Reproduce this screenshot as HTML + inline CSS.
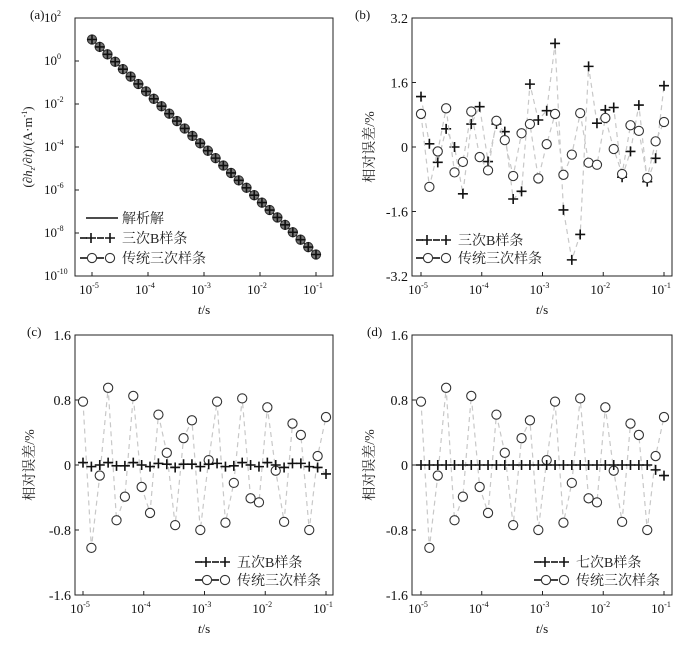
<!DOCTYPE html>
<html><head><meta charset="utf-8"><style>
html,body{margin:0;padding:0;background:#fff;}
svg{display:block;font-family:"Liberation Serif","Noto Serif CJK SC","Noto Sans CJK SC",serif;}
</style></head><body>
<svg id="chart" width="700" height="646" viewBox="0 0 700 646" xmlns="http://www.w3.org/2000/svg"></svg>
<script>
const NPTS = 30;
const tStart = -5, tEnd = -1;
const hStartExp = 1, hSlope = -2.5;
const cubicB = [1.25,0.08,-0.38,0.45,0,-1.16,0.57,1.0,-0.36,0.57,0.38,-1.29,-1.1,1.56,0.67,0.9,2.57,-1.56,-2.8,-2.17,2.0,0.59,0.92,0.98,-0.75,-0.11,1.04,-0.86,-0.28,1.52];
const tradCubicB = [0.82,-0.99,-0.11,0.96,-0.63,-0.37,0.88,-0.25,-0.58,0.65,0.17,-0.72,0.34,0.57,-0.78,0.07,0.82,-0.69,-0.19,0.84,-0.39,-0.44,0.72,-0.05,-0.67,0.54,0.40,-0.77,0.14,0.62];
const tradCubic = [0.78,-1.02,-0.13,0.95,-0.68,-0.39,0.85,-0.27,-0.59,0.62,0.15,-0.74,0.33,0.55,-0.80,0.06,0.78,-0.71,-0.22,0.82,-0.41,-0.46,0.71,-0.07,-0.70,0.51,0.37,-0.80,0.11,0.59];
const quinticB = [0.03,-0.02,0,0.03,-0.01,-0.01,0.03,0,-0.02,0.02,0.01,-0.03,0.01,0.01,-0.02,0.01,0.02,-0.02,-0.01,0.03,0,-0.02,0.03,0,-0.03,0.02,0.02,-0.02,-0.03,-0.11];
const septicB = [0,0,0,0,0,0,0,0,0,0,0,0,0,0,0,0,0,0,0,0,0,0,0,0,0,0,0,0,-0.06,-0.13];
const xTickExps = [-5,-4,-3,-2,-1];
const yTickExpsA = [2,0,-2,-4,-6,-8,-10];
const yTicksB = [3.2,1.6,0,-1.6,-3.2];
const yTicksC = [1.6,0.8,0,-0.8,-1.6];

const NS="http://www.w3.org/2000/svg";
const svg=document.getElementById('chart');
function mk(tag,attrs,parent){const e=document.createElementNS(NS,tag);for(const k in attrs)e.setAttribute(k,attrs[k]);(parent||svg).appendChild(e);return e;}
const tExp=[];for(let i=0;i<NPTS;i++)tExp.push(tStart+(tEnd-tStart)*i/(NPTS-1));

function supText(g,x,y,base,sup,anchor){
  const t=mk('text',{x:x,y:y,'font-size':13,'text-anchor':anchor||'middle',fill:'#111'},g);
  t.textContent=base;
  const s=mk('tspan',{'font-size':8,dy:-6},t);s.textContent=sup;
  return t;
}
function plus(g,x,y){const p=mk('path',{d:`M${x-5},${y}H${x+5}M${x},${y-5}V${y+5}`,stroke:'#111','stroke-width':1.6,fill:'none'},g);}
function circ(g,x,y,fill){const c=mk('circle',{cx:x,cy:y,r:4.6,stroke:'#333','stroke-width':1.1,fill:fill||'#fff'},g);}

function panel(o){
  const g=mk('g',{});
  
  
  const X=e=>o.x0+(e-(-5))/4*(o.x1-o.x0);
  const Y=v=>o.yTop+(o.vMax-v)/(o.vMax-o.vMin)*(o.yBot-o.yTop);
  o.series.forEach(s=>{
    const pts=s.vals.map((v,i)=>[X(tExp[i]),Y(v)]);
    const ln=mk('polyline',{points:pts.map(p=>p.join(',')).join(' '),fill:'none',stroke:s.lineColor,'stroke-width':s.lineW,'stroke-dasharray':s.dash||'none'},g);
    
    
    pts.forEach(p=>{if(s.marker==='plus')plus(g,p[0],p[1]);else if(s.marker==='circle')circ(g,p[0],p[1],s.fill);});
  });
  const fr=mk('rect',{x:o.bx0,y:o.yTop,width:o.bx1-o.bx0,height:o.yBot-o.yTop,fill:'none',stroke:'#222','stroke-width':1},g);
  
  xTickExps.forEach(e=>{
    const x=X(e);
    mk('line',{x1:x,x2:x,y1:o.yBot,y2:o.yBot-4,stroke:'#222'},g);
    const t=supText(g,x-3,o.yBot+18,'10',String(e));
    
  });
  o.yTicks.forEach(v=>{
    const y=Y(v);
    mk('line',{x1:o.bx0,x2:o.bx0+4,y1:y,y2:y,stroke:'#222'},g);
    let t;
    if(o.logY){t=supText(g,o.bx0-31,y+4,'10',String(v),'start');}
    else{t=mk('text',{x:o.bx0-4,y:y+5,'font-size':14,'text-anchor':'end',fill:'#111'},g);t.textContent=String(v);}
    
  });
  const xt=mk('text',{x:(o.bx0+o.bx1)/2,y:o.yBot+38,'font-size':13,'text-anchor':'middle',fill:'#111'},g);
  xt.innerHTML='<tspan font-style="italic">t</tspan>/s';
  
  const yc=(o.yTop+o.yBot)/2;
  const yt=mk('text',{x:o.ytx,y:yc,'font-size':o.ytSize||14,'text-anchor':'middle',fill:'#222',transform:`rotate(-90 ${o.ytx} ${yc})`},g);
  yt.innerHTML=o.yTitle;
  
  const pl=mk('text',{x:o.plx,y:o.yTop+1,'font-size':13,fill:'#111'},g);pl.textContent=o.label;
  
  o.legend.forEach((L,i)=>{
    const y=o.lgY+i*o.lgDy, x=o.lgX;
    const lg=mk('g',{},g);
    
    if(L.type==='solid'){mk('line',{x1:x+6,x2:x+38,y1:y,y2:y,stroke:'#111','stroke-width':1.4},lg);}
    else{
      mk('line',{x1:x,x2:x+7,y1:y,y2:y,stroke:'#111','stroke-width':1.6},lg);
      mk('line',{x1:x+17,x2:x+24,y1:y,y2:y,stroke:'#111','stroke-width':1.6},lg);
      if(L.type==='plus'){plus(lg,x+11,y);plus(lg,x+30,y);}else{circ(lg,x+12,y);circ(lg,x+30,y);}
    }
    const tx=mk('text',{x:x+42,y:y+5,'font-size':14,fill:'#222'},lg);tx.textContent=L.text;
  });
}

const aVals=tExp.map(e=>hStartExp+hSlope*(e+5));
panel({name:'panel-a',label:'(a)',plx:30,x0:92,x1:316,bx0:75,bx1:333,yTop:18,yBot:276,vMax:2,vMin:-10,logY:true,yTicks:yTickExpsA,
  ytx:32,ytSize:13,yTitle:'(∂<tspan font-style="italic">h</tspan><tspan font-size="8" dy="3" font-style="italic">z</tspan><tspan dy="-3">/∂</tspan><tspan font-style="italic">t</tspan>)/(A·m<tspan font-size="8" dy="-5">-1</tspan><tspan dy="5">)</tspan>',
  series:[{name:'analytic',vals:aVals,lineColor:'#111',lineW:1.4},
          {name:'cubic-b-spline',vals:aVals,lineColor:'none',lineW:0,marker:'circle',fill:'#777'},
          {name:'cubic-b-spline-plus',vals:aVals,lineColor:'none',lineW:0,marker:'plus'}],
  lgX:80,lgY:218,lgDy:20,legend:[{type:'solid',text:'解析解'},{type:'plus',text:'三次B样条'},{type:'circle',text:'传统三次样条'}]});
panel({name:'panel-b',label:'(b)',plx:355,x0:421,x1:664,bx0:412,bx1:672,yTop:18,yBot:276,vMax:3.2,vMin:-3.2,yTicks:yTicksB,
  ytx:374,yTitle:'相对误差/%',
  series:[{name:'cubic-b-spline',vals:cubicB,lineColor:'#c8c8c8',lineW:1.2,dash:'5,4',marker:'plus'},
          {name:'traditional-cubic-spline',vals:tradCubicB,lineColor:'#c8c8c8',lineW:1.2,dash:'5,4',marker:'circle'}],
  lgX:416,lgY:240,lgDy:18,legend:[{type:'plus',text:'三次B样条'},{type:'circle',text:'传统三次样条'}]});
panel({name:'panel-c',label:'(c)',plx:27,x0:83,x1:326,bx0:75,bx1:333,yTop:335,yBot:595,vMax:1.6,vMin:-1.6,yTicks:yTicksC,
  ytx:34,yTitle:'相对误差/%',
  series:[{name:'traditional-cubic-spline',vals:tradCubic,lineColor:'#c8c8c8',lineW:1.2,dash:'5,4',marker:'circle'},
          {name:'quintic-b-spline',vals:quinticB,lineColor:'#c8c8c8',lineW:1.2,dash:'5,4',marker:'plus'}],
  lgX:195,lgY:562,lgDy:18,legend:[{type:'plus',text:'五次B样条'},{type:'circle',text:'传统三次样条'}]});
panel({name:'panel-d',label:'(d)',plx:367,x0:421,x1:664,bx0:412,bx1:672,yTop:335,yBot:595,vMax:1.6,vMin:-1.6,yTicks:yTicksC,
  ytx:374,yTitle:'相对误差/%',
  series:[{name:'traditional-cubic-spline',vals:tradCubic,lineColor:'#c8c8c8',lineW:1.2,dash:'5,4',marker:'circle'},
          {name:'septic-b-spline',vals:septicB,lineColor:'#c8c8c8',lineW:1.2,dash:'5,4',marker:'plus'}],
  lgX:534,lgY:562,lgDy:18,legend:[{type:'plus',text:'七次B样条'},{type:'circle',text:'传统三次样条'}]});
</script>
</body></html>
